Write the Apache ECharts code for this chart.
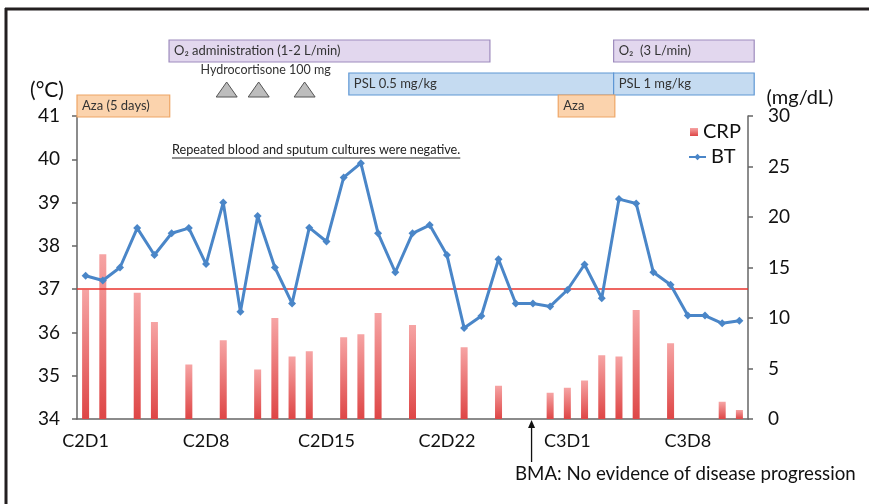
<!DOCTYPE html>
<html><head><meta charset="utf-8">
<script src="https://cdn.jsdelivr.net/npm/echarts@6/dist/echarts.min.js"></script>
<style>html,body{margin:0;padding:0;background:#fff}#c{width:869px;height:504px}</style>
</head><body><div id="c"></div>
<script>
// ---- data ----
const categories = ['C2D1','C2D2','C2D3','C2D4','C2D5','C2D6','C2D7','C2D8','C2D9','C2D10',
  'C2D11','C2D12','C2D13','C2D14','C2D15','C2D16','C2D17','C2D18','C2D19','C2D20',
  'C2D21','C2D22','C2D23','C2D24','C2D25','C2D26','C2D27','C2D28','C3D1','C3D2',
  'C3D3','C3D4','C3D5','C3D6','C3D7','C3D8','C3D9','C3D10','C3D11'];
const btValues = [37.31,37.20,37.50,38.41,37.79,38.29,38.41,37.58,39.00,36.48,
  38.69,37.50,36.67,38.42,38.10,39.58,39.91,38.29,37.39,38.29,
  38.48,37.79,36.10,36.38,37.69,36.67,36.67,36.60,36.98,37.57,
  36.79,39.08,38.98,37.39,37.10,36.39,36.39,36.21,36.27];
const crpValues = [12.8,16.3,null,12.5,9.6,null,5.4,null,7.8,null,
  4.9,10.0,6.2,6.7,null,8.1,8.4,10.5,null,9.3,
  null,null,7.1,null,3.3,null,null,2.6,3.1,3.8,
  6.3,6.2,10.8,null,7.5,null,null,1.7,0.9];
const feverThreshold = 37;
const tempTicks = {min:34, max:41, interval:1};
const crpTicks = {min:0, max:30, interval:5};
// treatment bars: [label, start, end (category boundary units), kind]
const treatments = [
  ['O\u2082 administration (1-2 L/min)', 5.35, 24.0, 'o2'],
  ['O\u2082  (3 L/min)', 31.19, 39.36, 'o2'],
  ['PSL 0.5 mg/kg', 15.8, 31.19, 'psl'],
  ['PSL 1 mg/kg', 31.19, 39.36, 'psl'],
  ['Aza (5 days)', 0, 5.39, 'aza'],
  ['Aza', 27.97, 31.26, 'aza']
];
const hydrocortisoneDoses = [8.7, 10.56, 13.23];
const bmaDay = 26.42;

const FONT = 'Lato, "Open Sans", sans-serif';
const chart = echarts.init(document.getElementById('c'));
chart.setOption({
  animation:false,
  backgroundColor:'#fff',
  grid:{left:77, right:121, top:116, bottom:85},
  legend:[
    {data:[{name:'CRP', icon:'rect'}], left:685, top:117, itemWidth:8, itemHeight:8, itemGap:5,
     textStyle:{fontSize:20, color:'#111', fontFamily:FONT}},
    {data:[{name:'BT'}], left:683, top:142, itemWidth:17, itemHeight:8, itemGap:5,
     textStyle:{fontSize:20, color:'#111', fontFamily:FONT}}
  ],
  xAxis:{type:'category', data:categories, boundaryGap:true,
    axisLine:{lineStyle:{color:'#666', width:1.5}},
    axisTick:{interval:6, length:5, lineStyle:{color:'#666', width:1.5}},
    axisLabel:{interval:6, margin:13, fontSize:18, color:'#111', fontFamily:FONT}},
  yAxis:[
    {type:'value', min:tempTicks.min, max:tempTicks.max, interval:tempTicks.interval,
     axisLine:{show:true, lineStyle:{color:'#666', width:1.5}},
     axisTick:{show:true, length:5, lineStyle:{color:'#666', width:1.5}},
     splitLine:{show:false},
     axisLabel:{margin:17, fontSize:19, color:'#111', fontFamily:FONT}},
    {type:'value', min:crpTicks.min, max:crpTicks.max, interval:crpTicks.interval, position:'right',
     axisLine:{show:true, lineStyle:{color:'#666', width:1.5}},
     axisTick:{show:true, length:5, lineStyle:{color:'#666', width:1.5}},
     splitLine:{show:false},
     axisLabel:{margin:20, fontSize:19, color:'#111', fontFamily:FONT}}
  ],
  series:[
    {name:'CRP', type:'bar', yAxisIndex:1, data:crpValues, barWidth:7,
     itemStyle:{color:new echarts.graphic.LinearGradient(0,0,0,1,[
       {offset:0,color:'#f6a4a4'},{offset:1,color:'#de4646'}])}},
    {name:'BT', type:'line', yAxisIndex:0, data:btValues, z:5,
     symbol:'diamond', symbolSize:8,
     lineStyle:{color:'#4a86c8', width:3},
     itemStyle:{color:'#4a86c8'},
     markLine:{silent:true, symbol:['none','none'], label:{show:false},
       lineStyle:{color:'#e8332c', width:1.5, type:'solid'},
       data:[{yAxis:feverThreshold}]}}
  ]
});

function drawAnnotations(){
  const c0 = chart.convertToPixel({xAxisIndex:0}, 0);
  const c1 = chart.convertToPixel({xAxisIndex:0}, 1);
  const step = c1 - c0;
  const bx = t => c0 + (t - 0.5) * step;
  const styles = {
    o2:{y:40, fill:'#e2d7ee', stroke:'#9d8bbd'},
    psl:{y:73, fill:'#c5dbf1', stroke:'#5f97d4'},
    aza:{y:95, fill:'#fbd3ad', stroke:'#eea666'}
  };
  const g = [];
  // frame
  g.push({type:'line', shape:{x1:5, y1:9, x2:869, y2:9}, style:{stroke:'#231f20', lineWidth:3}});
  g.push({type:'line', shape:{x1:6, y1:8, x2:6, y2:504}, style:{stroke:'#231f20', lineWidth:3}});
  treatments.forEach(([label, s, e, kind]) => {
    const st = styles[kind];
    const x1 = bx(s), x2 = bx(e);
    g.push({type:'rect', shape:{x:x1, y:st.y, width:x2-x1, height:22},
      style:{fill:st.fill, stroke:st.stroke, lineWidth:1.2}, z:10});
    g.push({type:'text', x:x1+5, y:st.y+11, z:11,
      style:{text:label, fontSize:13, fill:'#333', fontFamily:FONT, verticalAlign:'middle', align:'left'}});
  });
  g.push({type:'text', x:bx((hydrocortisoneDoses[0]+hydrocortisoneDoses[2])/2), y:70, z:11,
    style:{text:'Hydrocortisone 100 mg', fontSize:12.5, fill:'#333', fontFamily:FONT, align:'center', verticalAlign:'middle'}});
  hydrocortisoneDoses.forEach(t => {
    const x = bx(t);
    g.push({type:'polygon', shape:{points:[[x,82],[x+10.5,97],[x-10.5,97]]},
      style:{fill:'#bdbdbd', stroke:'#555', lineWidth:1}, z:10});
  });
  // culture note
  const noteText = 'Repeated blood and sputum cultures were negative.';
  const nx = bx(13.9), ny = 150, nfs = 12.7;
  const cv = document.createElement('canvas').getContext('2d');
  cv.font = nfs + 'px ' + FONT;
  const w = cv.measureText(noteText).width;
  g.push({type:'text', x:nx, y:ny, z:11,
    style:{text:noteText, fontSize:nfs, fill:'#222', fontFamily:FONT, align:'center', verticalAlign:'middle'}});
  g.push({type:'line', shape:{x1:nx-w/2, y1:ny+8, x2:nx+w/2, y2:ny+8}, style:{stroke:'#222', lineWidth:1}, z:11});
  // BMA arrow
  const ax = bx(bmaDay);
  g.push({type:'line', shape:{x1:ax, y1:462, x2:ax, y2:423}, style:{stroke:'#111', lineWidth:1.3}, z:11});
  g.push({type:'polygon', shape:{points:[[ax,420],[ax+3.5,428],[ax-3.5,428]]}, style:{fill:'#111'}, z:11});
  g.push({type:'text', x:515, y:474, z:11,
    style:{text:'BMA: No evidence of disease progression', fontSize:18.7, fill:'#111', fontFamily:FONT, verticalAlign:'middle'}});
  // axis unit titles
  g.push({type:'text', x:47, y:90, z:11,
    style:{text:'(\u00B0C)', fontSize:21, fill:'#111', fontFamily:FONT, align:'center', verticalAlign:'middle'}});
  g.push({type:'text', x:800, y:98, z:11,
    style:{text:'(mg/dL)', fontSize:20, fill:'#111', fontFamily:FONT, align:'center', verticalAlign:'middle'}});
  chart.setOption({graphic:g});
}
drawAnnotations();
</script></body></html>
